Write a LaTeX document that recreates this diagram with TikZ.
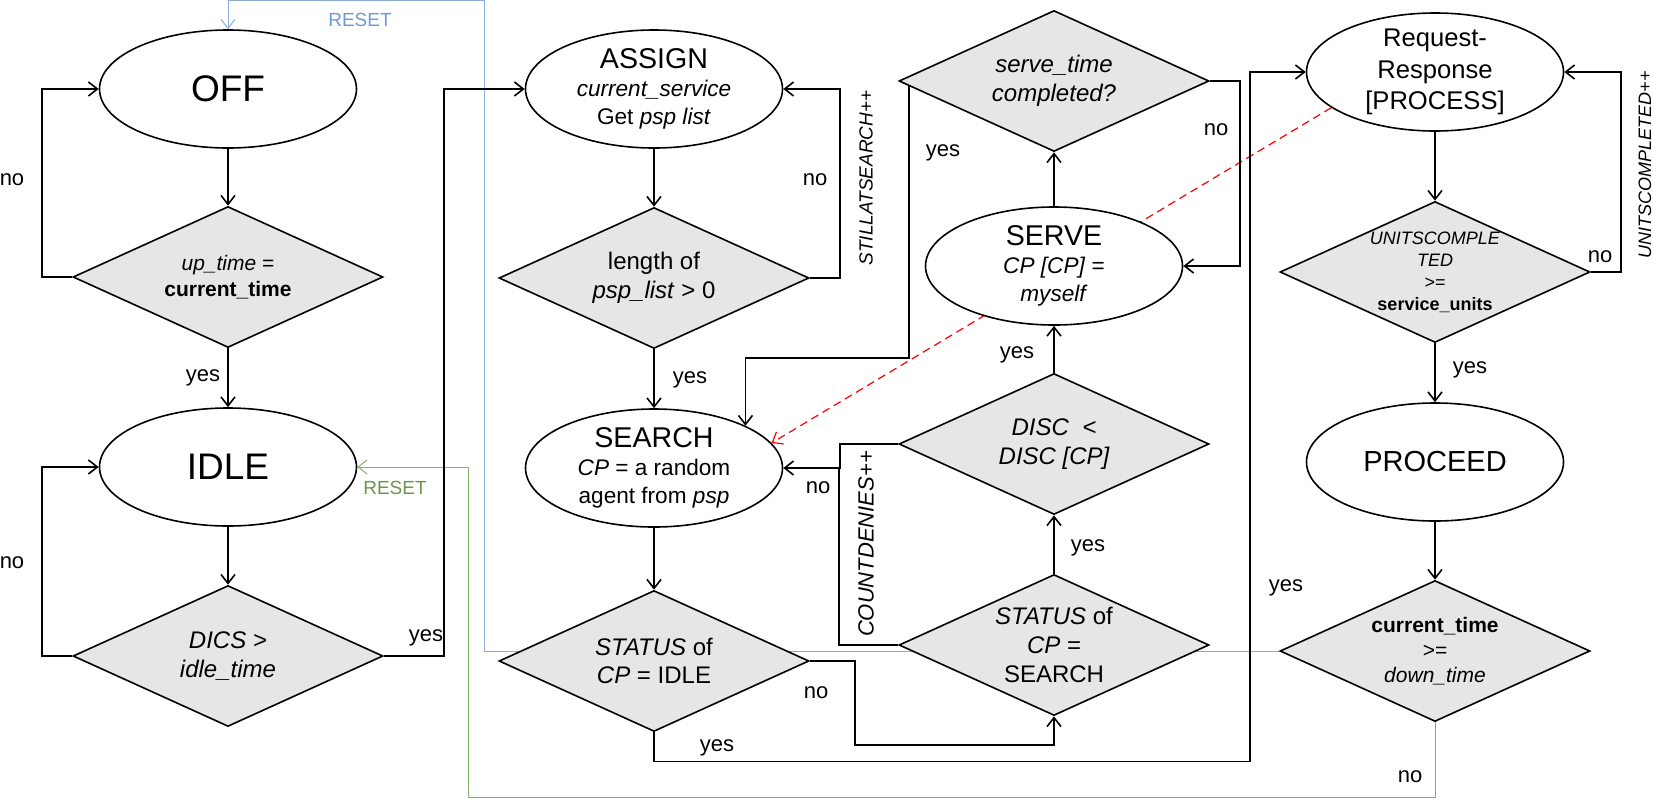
\documentclass[tikz,border=0pt]{standalone}
\usepackage{fontspec}
\setmainfont{Liberation Sans}
\usepackage{tikz}
\usetikzlibrary{positioning,arrows.meta,shapes.geometric,backgrounds,calc}
\definecolor{diagray}{RGB}{230,230,230}
\definecolor{resetline}{RGB}{140,172,214}
\definecolor{resettext}{RGB}{108,155,210}
\definecolor{idleline}{RGB}{130,179,102}
\definecolor{idletext}{RGB}{104,150,76}
\newcommand{\fsz}[2]{\fontsize{#1}{#2}\selectfont}
\tikzset{
  flowarrow/.style={-{Straight Barb[length=4.5pt,width=7pt]}, thick},
  resetarrow/.style={-{Straight Barb[length=4.5pt,width=7pt]}, line width=0.5pt},
  statebox/.style={draw, ellipse, thick, fill=white, minimum width=128.5pt, minimum height=59pt, inner sep=-3pt, align=center},
  decision/.style={draw, diamond, thick, fill=diagray, aspect=2.2, minimum width=155pt, minimum height=70.5pt, inner sep=0pt, align=center},
  linklabel/.style={font=\fsz{11}{13}, inner sep=1pt},
  countlabel/.style={font=\fsz{9.5}{11}\itshape, rotate=90, inner sep=1pt},
  resetlabel/.style={font=\fsz{9.5}{11}, inner sep=1pt}
}

\begin{document}
\begin{tikzpicture}[x=0.5pt, y=-0.5pt, every node/.style={font=\fsz{11}{13}}]
  \useasboundingbox (0,0) rectangle (1653,798);
  \node[statebox, font=\fsz{18.5}{22}] (off) at (228,89) {OFF};
  \node[decision, font=\fsz{10.5}{13}] (uptime) at (228,277) {\textit{up\_time} =\\ \textbf{current\_time}};
  \node[statebox, font=\fsz{18.5}{22}] (idle) at (228,467) {IDLE};
  \node[decision, font=\fsz{12}{14.4}\itshape] (dics) at (228,656) {DICS >\\ idle\_time};
  \node[statebox, font=\fsz{11.3}{14}] (assign) at (654,89) {{\fsz{14.3}{14}ASSIGN}\\ \textit{current\_service}\\ Get \textit{psp list}};
  \node[decision, font=\fsz{12}{14.4}] (pspcheck) at (654,278) {length of\\ \textit{psp\_list} > 0};
  \node[statebox, font=\fsz{11.3}{14}] (search) at (654,468) {{\fsz{14.3}{14}SEARCH}\\ \textit{CP} = a random\\ agent from \textit{psp}};
  \node[decision, font=\fsz{12}{14.4}] (statusidle) at (654,661) {\textit{STATUS} of\\ \textit{CP} = IDLE};
  \node[decision, font=\fsz{12}{14.4}\itshape] (servetime) at (1054,81) {serve\_time\\ completed?};
  \node[statebox, font=\fsz{11.3}{14}] (serve) at (1054,266) {{\fsz{14.3}{14}SERVE}\\ \textit{CP [CP]} =\\ \textit{myself}};
  \node[decision, font=\fsz{12}{14.4}\itshape] (disc) at (1054,444) {DISC\ \ <\\ {DISC [CP]}};
  \node[decision, font=\fsz{12}{14.4}] (statussearch) at (1054,645) {\textit{STATUS} of\\ \textit{CP} =\\ SEARCH};
  \node[statebox, font=\fsz{12.8}{15.8}] (reqresp) at (1435,72) {Request-\\ Response\\ {[PROCESS]}};
  \node[decision, font=\fsz{9}{11}, inner sep=-2pt] (units) at (1435,272) {\textit{UNITSCOMPLE}\\ \textit{TED}\\ >=\\ \textbf{service\_units}};
  \node[statebox, font=\fsz{14.5}{17}] (proceed) at (1435,462) {PROCEED};
  \node[decision, font=\fsz{10.5}{12.5}] (curtime) at (1435,651) {\textbf{current\_time}\\ >=\\ \textit{down\_time}};

  \draw[flowarrow] (off) -- (uptime);
  \draw[flowarrow] (uptime.west) -- ++(-30,0) |- (off.west);
  \draw[flowarrow] (uptime) -- (idle);
  \draw[flowarrow] (idle) -- (dics);
  \draw[flowarrow] (dics.west) -- ++(-30,0) |- (idle.west);
  \draw[flowarrow] (dics.east) -- ++(60,0) |- (assign.west);
  \draw[flowarrow] (assign) -- (pspcheck);
  \draw[flowarrow] (pspcheck.east) -- ++(30,0) |- (assign.east);
  \draw[flowarrow] (pspcheck) -- (search);
  \draw[flowarrow] ($(servetime.west)!0.07!(servetime.south)$) |- ($(search.north east)+(0,-68)$) -- (search.north east);
  \draw[flowarrow] (servetime.east) -- ++(30,0) |- (serve.east);
  \draw[flowarrow] (serve) -- (servetime);
  \draw[flowarrow] (disc) -- (serve);
  \draw[flowarrow] (statussearch) -- (disc);
  \draw[flowarrow] (disc.west) -- ++(-58,0) |- (search.east);
  \draw[thick] (statussearch.west) -- ++(-59,0) coordinate (denycorner) -- (denycorner |- search.east);
  \draw[flowarrow] (search) -- (statusidle);
  \draw[flowarrow] (statusidle.east) -- ++(45,0) -- ++(0,84) -| (statussearch.south);
  \draw[flowarrow] (statusidle.south) -- ++(0,29) -| ($(reqresp.west)+(-56,0)$) -- (reqresp.west);
  \draw[flowarrow] (reqresp) -- (units);
  \draw[flowarrow] (units.east) -- ++(30,0) |- (reqresp.east);
  \draw[flowarrow] (units) -- (proceed);
  \draw[flowarrow] (proceed) -- (curtime);

  \begin{pgfonlayer}{background}
    \draw[resetarrow, draw=resetline] (curtime.west) -| ($(off.north)+(256,-29)$) -| (off.north);
    \draw[resetarrow, draw=idleline] (curtime.south) -- ++(0,75) -| ($(idle.east)+(111,0)$) -- (idle.east);
    \draw[resetarrow, draw=red, line width=0.6pt, dash pattern=on 4pt off 2.5pt] (reqresp.199) -- (search.12);
  \end{pgfonlayer}

  \node[linklabel] (noOff) at (12,180) {no};
  \node[linklabel] (yesOff) at (203,378) {yes};
  \node[linklabel] (noIdle) at (12,563) {no};
  \node[linklabel] (yesIdle) at (426,638) {yes};
  \node[linklabel] (noPsp) at (815,180) {no};
  \node[linklabel] (yesPsp) at (690,380) {yes};
  \node[countlabel] (stillsearch) at (866,178) {STILLATSEARCH++};
  \node[linklabel] (noDisc) at (818,488) {no};
  \node[countlabel, font=\fsz{11}{13}\itshape] (countdenies) at (866,544) {COUNTDENIES++};
  \node[linklabel] (noStatus) at (816,693) {no};
  \node[linklabel] (yesStatus) at (717,748) {yes};
  \node[linklabel] (yesServe) at (943,153) {yes};
  \node[linklabel] (noServe) at (1216,130) {no};
  \node[linklabel] (yesDisc) at (1017,355) {yes};
  \node[linklabel] (yesSearch) at (1088,548) {yes};
  \node[linklabel] (yesTime) at (1286,588) {yes};
  \node[linklabel] (noUnits) at (1600,257) {no};
  \node[countlabel, font=\fsz{9}{11}\itshape] (unitsdone) at (1645,165) {UNITSCOMPLETED++};
  \node[linklabel] (yesUnits) at (1470,370) {yes};
  \node[linklabel] (noTime) at (1410,777) {no};
  \node[resetlabel, text=resettext] (resetOff) at (360,20) {RESET};
  \node[resetlabel, text=idletext] (resetIdle) at (395,488) {RESET};
\end{tikzpicture}
\end{document}
